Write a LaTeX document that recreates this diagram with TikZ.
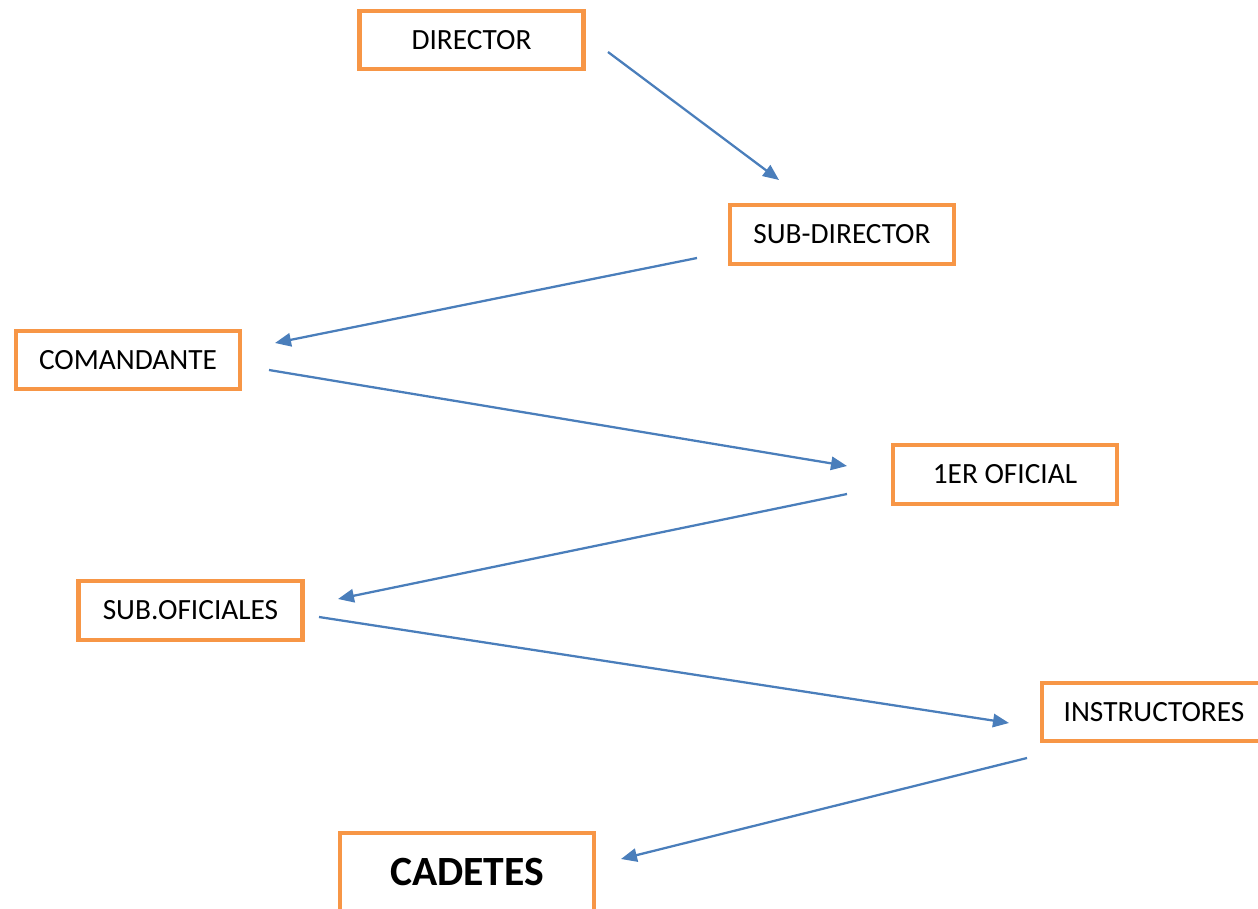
\documentclass[tikz,border=0pt]{standalone}
\usepackage{fontspec}
\setmainfont{Carlito}
\usetikzlibrary{arrows.meta}
\definecolor{boxorange}{HTML}{F79646}
\definecolor{linkblue}{HTML}{4A7EBB}

\begin{document}
\begin{tikzpicture}[x=0.375pt, y=-0.375pt, >={Triangle[length=6pt,width=5pt]},
    rank/.style={rectangle, draw=boxorange, line width=1.6pt, minimum width=84pt, minimum height=22pt, inner sep=0pt, font=\fontsize{11}{13}\selectfont},
    link/.style={->, draw=linkblue, line width=0.85pt}]

                \useasboundingbox (0,0) rectangle (1258,909);

                % Nodes
                \node (dir) [rank] at (471.5,40) {DIRECTOR};
                \node (subdir) [rank] at (842,234.5) {SUB-DIRECTOR};
                \node (coman) [rank] at (128,360) {COMANDANTE};
                \node (ofic) [rank] at (1005,474.5) {1ER OFICIAL};
                \node (subof) [rank] at (190.5,610.5) {SUB.OFICIALES};
                \node (instr) [rank] at (1154,712) {INSTRUCTORES};
                \node (cadet) [rank, minimum width=95pt, minimum height=29.5pt, font=\fontsize{15.6}{18}\selectfont\bfseries] at (467,872) {CADETES};

                % Arrow ends
                \coordinate (dir-out) at (608,52);
                \coordinate (subdir-in) at (779,180);
                \coordinate (subdir-out) at (697,258);
                \coordinate (coman-in) at (275,343);
                \coordinate (coman-out) at (269,370);
                \coordinate (ofic-in) at (847,466);
                \coordinate (ofic-out) at (847,494);
                \coordinate (subof-in) at (338,599);
                \coordinate (subof-out) at (319,617);
                \coordinate (instr-in) at (1009,723);
                \coordinate (instr-out) at (1027,758);
                \coordinate (cadet-in) at (621,859);

                % Transitions
                \draw[link] (dir-out) -- (subdir-in);
                \draw[link] (subdir-out) -- (coman-in);
                \draw[link] (coman-out) -- (ofic-in);
                \draw[link] (ofic-out) -- (subof-in);
                \draw[link] (subof-out) -- (instr-in);
                \draw[link] (instr-out) -- (cadet-in);

            \end{tikzpicture}
\end{document}
